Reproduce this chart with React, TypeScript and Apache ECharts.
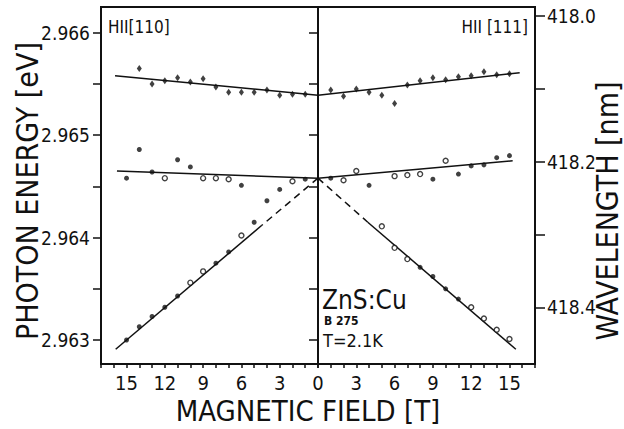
import React, { useEffect, useRef } from "react";
import * as echarts from "echarts";

const FONT = "'DejaVu Sans Condensed', 'Liberation Sans Narrow', 'DejaVu Sans', sans-serif";
const INK = "#111";

// Tick labels
const fieldTicks = [0, 1, 2, 3, 4, 5, 6, 7, 8, 9, 10, 11, 12, 13, 14, 15, 16, 17];
const fieldLabels = [0, 3, 6, 9, 12, 15];
const energyLabels = [2.963, 2.964, 2.965, 2.966];
const energyTicks = [2.963, 2.9635, 2.964, 2.9645, 2.965, 2.9655, 2.966];
const wavelengthLabels = [418.0, 418.2, 418.4];
const wavelengthTicks = [418.0, 418.1, 418.2, 418.3, 418.4];

// H || [110] (left half), field in T, energy in eV
const leftUpperB = [14, 13, 12, 11, 10, 9, 8, 7, 6, 5, 4, 3, 2, 1];
const leftUpperE = [2.96565, 2.9655, 2.96553, 2.96556, 2.96552, 2.96555, 2.96547, 2.96542, 2.96542, 2.96542, 2.96544, 2.96539, 2.9654, 2.9654];
const leftMiddleB = [15, 14, 13, 12, 11, 10, 9, 8, 7, 6, 3, 2, 1];
const leftMiddleE = [2.96458, 2.96486, 2.96464, 2.96458, 2.96476, 2.96469, 2.96458, 2.96458, 2.96457, 2.96451, 2.96447, 2.96455, 2.96457];
const leftMiddleOpen = [0, 0, 0, 1, 0, 0, 1, 1, 1, 0, 0, 1, 0];
const leftLowerB = [15, 14, 13, 12, 11, 10, 9, 8, 7, 6, 5, 4];
const leftLowerE = [2.963, 2.96313, 2.96323, 2.96332, 2.96343, 2.96356, 2.96367, 2.96375, 2.96386, 2.96402, 2.96415, 2.96436];
const leftLowerOpen = [0, 0, 0, 0, 0, 1, 1, 0, 0, 1, 0, 0];

// H || [111] (right half)
const rightUpperB = [1, 2, 3, 4, 5, 6, 7, 8, 9, 10, 11, 12, 13, 14, 15];
const rightUpperE = [2.96544, 2.96538, 2.96545, 2.96542, 2.96539, 2.96531, 2.96549, 2.96553, 2.96556, 2.96554, 2.96557, 2.96558, 2.96562, 2.96559, 2.9656];
const rightMiddleB = [1, 2, 3, 4, 6, 7, 8, 9, 10, 11, 12, 13, 14, 15];
const rightMiddleE = [2.96458, 2.96456, 2.96465, 2.96451, 2.9646, 2.96461, 2.96462, 2.96457, 2.96475, 2.96462, 2.9647, 2.96471, 2.96478, 2.9648];
const rightMiddleOpen = [0, 1, 1, 0, 1, 1, 1, 0, 1, 0, 0, 0, 0, 0];
const rightLowerB = [5, 6, 7, 8, 9, 10, 11, 12, 13, 14, 15];
const rightLowerE = [2.96411, 2.9639, 2.96379, 2.96371, 2.96362, 2.9635, 2.9634, 2.96332, 2.96321, 2.9631, 2.96301];
const rightLowerOpen = [1, 1, 1, 0, 0, 0, 0, 1, 1, 1, 1];

// Fitted lines: [B, E] end points
const leftUpperFitB = [0, 15.9];
const leftUpperFitE = [2.96539, 2.96558];
const rightUpperFitB = [0, 15.8];
const rightUpperFitE = [2.96539, 2.96561];
const leftMiddleFitB = [0, 15.75];
const leftMiddleFitE = [2.96458, 2.96465];
const rightMiddleFitB = [0, 15.25];
const rightMiddleFitE = [2.96458, 2.96475];
const leftLowerDashB = [0, 4.4];
const leftLowerDashE = [2.96458, 2.96412];
const leftLowerFitB = [4.4, 15.85];
const leftLowerFitE = [2.96412, 2.96291];
const rightLowerDashB = [0, 3.9];
const rightLowerDashE = [2.96458, 2.96415];
const rightLowerFitB = [3.9, 15.5];
const rightLowerFitE = [2.96415, 2.96291];

const E_MIN = 2.962766;
const E_MAX = 2.966251;
const L_MIN = 417.9878;
const L_MAX = 418.4778;

function pts(b: number[], e: number[]) {
  return b.map((v, i) => [v, e[i]]);
}

function dots(xi: number, yi: number, b: number[], e: number[], open: number[]) {
  return {
    type: "scatter",
    xAxisIndex: xi,
    yAxisIndex: yi,
    symbol: "circle",
    symbolSize: 5,
    z: 5,
    data: b.map((v, i) => ({
      value: [v, e[i]],
      itemStyle: open[i]
        ? { color: "#fff", borderColor: INK, borderWidth: 1.4 }
        : { color: INK, borderWidth: 0 },
    })),
  };
}

function crosses(xi: number, yi: number, b: number[], e: number[]) {
  return {
    type: "scatter",
    xAxisIndex: xi,
    yAxisIndex: yi,
    symbol: "diamond",
    symbolSize: [5, 7],
    z: 5,
    itemStyle: { color: INK },
    data: pts(b, e),
  };
}

function fit(xi: number, yi: number, b: number[], e: number[], dashed = false) {
  return {
    type: "line",
    xAxisIndex: xi,
    yAxisIndex: yi,
    showSymbol: false,
    symbol: "none",
    silent: true,
    z: 3,
    lineStyle: { color: INK, width: 1.5, type: dashed ? [7, 5] : "solid" },
    data: pts(b, e),
  };
}

export default function App() {
  const ref = useRef<HTMLDivElement>(null);
  useEffect(() => {
    if (!ref.current) return;
    const chart = echarts.init(ref.current, null, { renderer: "svg" });
    const tickLabel = { fontFamily: FONT, color: INK };
    const xAxisBase = {
      type: "value",
      min: 0,
      max: 17,
      splitLine: { show: false },
      axisLine: { show: true, onZero: false, lineStyle: { color: INK, width: 2 } },
      axisTick: { show: true, inside: false, length: 4, customValues: fieldTicks, lineStyle: { color: INK, width: 1.5 } },
    };
    chart.setOption({
      animation: false,
      backgroundColor: "#fff",
      grid: [
        { left: 101, top: 7, width: 217, height: 357, show: true, borderColor: INK, borderWidth: 2 },
        { left: 318, top: 7, width: 217, height: 357, show: true, borderColor: INK, borderWidth: 2 },
      ],
      xAxis: [
        {
          ...xAxisBase,
          gridIndex: 0,
          inverse: true,
          axisLabel: {
            ...tickLabel,
            fontSize: 20,
            margin: 9,
            customValues: fieldLabels.filter((v) => v > 0),
          },
        },
        {
          ...xAxisBase,
          gridIndex: 1,
          axisLabel: {
            ...tickLabel,
            fontSize: 20,
            margin: 9,
            showMinLabel: true,
            customValues: fieldLabels,
          },
        },
      ],
      yAxis: [
        {
          type: "value",
          gridIndex: 0,
          position: "left",
          min: E_MIN,
          max: E_MAX,
          splitLine: { show: false },
          axisLine: { show: true, onZero: false, lineStyle: { color: INK, width: 2 } },
          axisTick: { show: true, inside: false, length: 8, customValues: energyTicks, lineStyle: { color: INK, width: 1.5 } },
          axisLabel: {
            ...tickLabel,
            fontSize: 19,
            margin: 11,
            customValues: energyLabels,
            formatter: (v: number) => v.toFixed(3),
          },
        },
        {
          type: "value",
          gridIndex: 0,
          position: "right",
          min: E_MIN,
          max: E_MAX,
          splitLine: { show: false },
          axisLine: { show: true, onZero: false, lineStyle: { color: INK, width: 2 } },
          axisTick: { show: true, inside: true, length: 9, customValues: energyTicks, lineStyle: { color: INK, width: 1.5 } },
          axisLabel: { show: false },
        },
        {
          type: "value",
          gridIndex: 1,
          position: "right",
          inverse: true,
          min: L_MIN,
          max: L_MAX,
          splitLine: { show: false },
          axisLine: { show: true, onZero: false, lineStyle: { color: INK, width: 2 } },
          axisTick: { show: true, inside: false, length: 10, customValues: wavelengthTicks, lineStyle: { color: INK, width: 1.5 } },
          axisLabel: {
            ...tickLabel,
            fontSize: 19,
            margin: 12,
            customValues: wavelengthLabels,
            formatter: (v: number) => v.toFixed(1),
          },
        },
        {
          type: "value",
          gridIndex: 1,
          position: "left",
          min: E_MIN,
          max: E_MAX,
          show: false,
        },
      ],
      graphic: [
        {
          type: "text",
          x: 27,
          y: 191,
          rotation: Math.PI / 2,
          style: { text: "PHOTON ENERGY [eV]", font: `30px ${FONT}`, fill: INK, align: "center", verticalAlign: "middle" },
        },
        {
          type: "text",
          x: 607,
          y: 211,
          rotation: Math.PI / 2,
          style: { text: "WAVELENGTH [nm]", font: `30px ${FONT}`, fill: INK, align: "center", verticalAlign: "middle" },
        },
        {
          type: "text",
          x: 308,
          y: 411,
          style: { text: "MAGNETIC FIELD [T]", font: `29px ${FONT}`, fill: INK, align: "center", verticalAlign: "middle" },
        },
        {
          type: "text",
          x: 108,
          y: 27,
          style: { text: "HII[110]", font: `17px ${FONT}`, fill: INK, align: "left", verticalAlign: "middle" },
        },
        {
          type: "text",
          x: 528,
          y: 27,
          style: { text: "HII [111]", font: `17px ${FONT}`, fill: INK, align: "right", verticalAlign: "middle" },
        },
        {
          type: "text",
          x: 322,
          y: 300,
          style: { text: "ZnS:Cu", font: `26px ${FONT}`, fill: INK, align: "left", verticalAlign: "middle" },
        },
        {
          type: "text",
          x: 324,
          y: 321,
          style: { text: "B 275", font: `bold 12px ${FONT}`, fill: INK, align: "left", verticalAlign: "middle" },
        },
        {
          type: "text",
          x: 323,
          y: 340,
          style: { text: "T=2.1K", font: `18px ${FONT}`, fill: INK, align: "left", verticalAlign: "middle" },
        },
      ],
      series: [
        fit(0, 0, leftUpperFitB, leftUpperFitE),
        fit(0, 0, leftMiddleFitB, leftMiddleFitE),
        fit(0, 0, leftLowerFitB, leftLowerFitE),
        fit(0, 0, leftLowerDashB, leftLowerDashE, true),
        fit(1, 3, rightUpperFitB, rightUpperFitE),
        fit(1, 3, rightMiddleFitB, rightMiddleFitE),
        fit(1, 3, rightLowerFitB, rightLowerFitE),
        fit(1, 3, rightLowerDashB, rightLowerDashE, true),
        crosses(0, 0, leftUpperB, leftUpperE),
        crosses(1, 3, rightUpperB, rightUpperE),
        dots(0, 0, leftMiddleB, leftMiddleE, leftMiddleOpen),
        dots(0, 0, leftLowerB, leftLowerE, leftLowerOpen),
        dots(1, 3, rightMiddleB, rightMiddleE, rightMiddleOpen),
        dots(1, 3, rightLowerB, rightLowerE, rightLowerOpen),
      ],
    });
    return () => chart.dispose();
  }, []);
  return (
    <div
      ref={ref}
      style={{ position: "fixed", left: 0, top: 0, width: 624, height: 429, background: "#fff" }}
    />
  );
}
